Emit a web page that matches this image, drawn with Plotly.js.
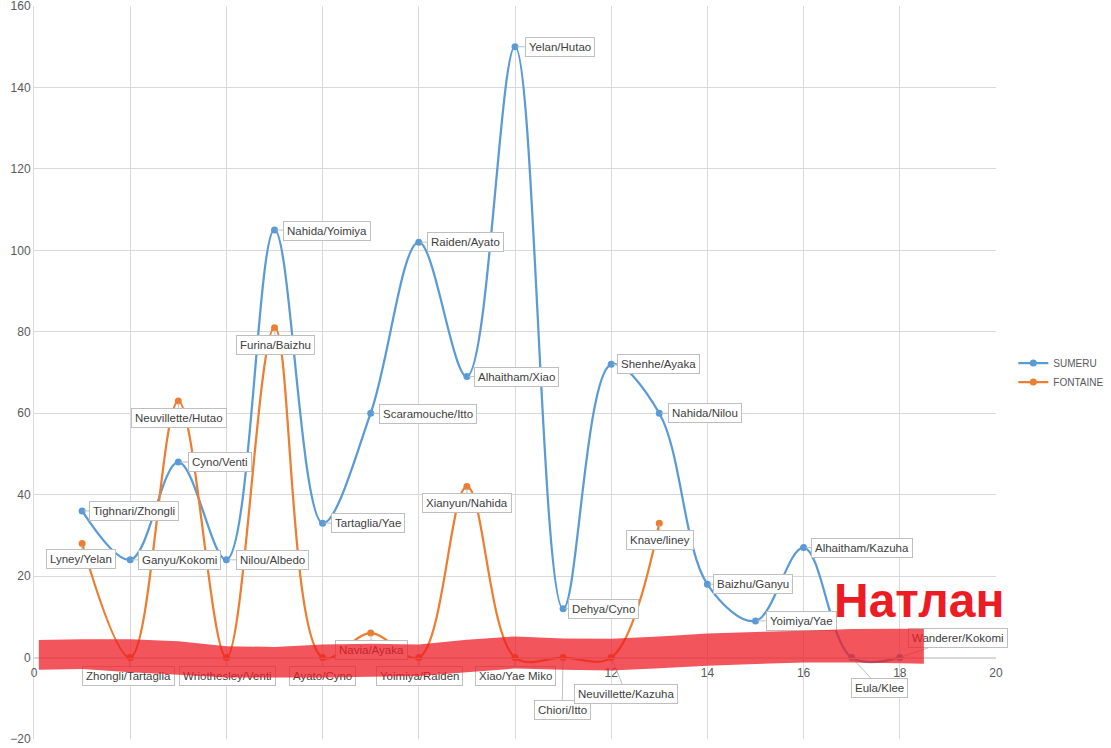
<!DOCTYPE html>
<html>
<head>
<meta charset="utf-8">
<script src="https://cdn.plot.ly/plotly-3.0.1.min.js"></script>
<style>
  html, body { margin: 0; padding: 0; background: #fff; }
  #chart { width: 1111px; height: 748px; }
</style>
</head>
<body>
<div id="chart"></div>
<script>
// values
let sumeru_x = [1, 2, 3, 4, 5, 6, 7, 8, 9, 10, 11, 12, 13, 14, 15, 16, 17, 18]
let sumeru_y = [36, 24, 48, 24, 105, 33, 60, 102, 69, 150, 12, 72, 60, 18, 9, 27, 0, 0]
let sumeru_labels = ['Tighnari/Zhongli', 'Ganyu/Kokomi', 'Cyno/Venti', 'Nilou/Albedo', 'Nahida/Yoimiya',
  'Tartaglia/Yae', 'Scaramouche/Itto', 'Raiden/Ayato', 'Alhaitham/Xiao', 'Yelan/Hutao', 'Dehya/Cyno',
  'Shenhe/Ayaka', 'Nahida/Nilou', 'Baizhu/Ganyu', 'Yoimiya/Yae', 'Alhaitham/Kazuha', 'Eula/Klee', 'Wanderer/Kokomi']

let fontaine_x = [1, 2, 3, 4, 5, 6, 7, 8, 9, 10, 11, 12, 13]
let fontaine_y = [28, 0, 63, 0, 81, 0, 6, 0, 42, 0, 0, 0, 33]
let fontaine_labels = ['Lyney/Yelan', 'Zhongli/Tartaglia', 'Neuvillette/Hutao', 'Wriothesley/Venti', 'Furina/Baizhu',
  'Ayato/Cyno', 'Navia/Ayaka', 'Yoimiya/Raiden', 'Xianyun/Nahida', 'Xiao/Yae Miko', 'Chiori/Itto',
  'Neuvillette/Kazuha', 'Knave/liney']

// label box offsets (pixels) from each point
let sumeru_dx = [52, 49, 42, 46, 52, 45, 57, 47, 50, 45, 40, 47, 46, 46, 46, 58, 28, 58]
let sumeru_dy = [0, 0, 0, 0, 1, 0, 1, 0, 0, 0, 0, 0, 0, 0, 0, 0, 30, -20]
let fontaine_dx = [-1, -2, 1, 1, 1, 0, 1, 1, 0, 0, -1, 15, 1]
let fontaine_dy = [15, 18, 17, 18, 17, 18, 17, 18, 16, 18, 52, 36, 17]

// hand drawn highlighter band
let band_x = [0.1, 1, 2, 3, 4, 5, 6, 7, 8, 9, 10, 11, 12, 13, 14, 15, 16, 17, 18, 18.5]
let band_top = [4.3, 4.5, 4.5, 4.0, 2.8, 2.6, 3.2, 3.4, 3.2, 4.4, 5.2, 4.7, 4.6, 5.2, 5.9, 6.3, 6.6, 7.0, 7.1, 7.0]
let band_bottom = [-3.0, -2.8, -3.6, -4.2, -4.9, -4.9, -4.9, -4.7, -4.5, -3.6, -2.7, -3.0, -3.2, -2.6, -2.0, -1.6, -1.2, -1.2, -1.4, -1.5]

let blue = '#5B9BD5'
let orange = '#ED7D31'
let label_font = {family: '"Liberation Sans", Arial, sans-serif', size: 11.5, color: '#404040'}

let make_labels = function(xs, ys, texts, dxs, dys) {
  let out = []
  for (let i = 0; i < xs.length; i++) {
    out.push({
      x: xs[i], y: ys[i], xref: 'x', yref: 'y',
      text: texts[i],
      showarrow: true, arrowhead: 0, arrowwidth: 1, arrowcolor: '#BFBFBF',
      ax: dxs[i], ay: dys[i], standoff: 2,
      bgcolor: '#FFFFFF', bordercolor: '#BFBFBF', borderwidth: 1, borderpad: 3,
      font: label_font
    })
  }
  return out
}

let band_path = 'M ' + band_x[0] + ',' + band_bottom[0]
for (let i = 0; i < band_x.length; i++) band_path += ' L ' + band_x[i] + ',' + band_top[i]
for (let i = band_x.length - 1; i >= 0; i--) band_path += ' L ' + band_x[i] + ',' + band_bottom[i]
band_path += ' Z'

let traces = [
  {
    x: sumeru_x, y: sumeru_y, name: 'SUMERU',
    mode: 'lines+markers', type: 'scatter',
    line: {color: blue, width: 2.25, shape: 'spline', smoothing: 1},
    marker: {color: blue, size: 7}
  },
  {
    x: fontaine_x, y: fontaine_y, name: 'FONTAINE',
    mode: 'lines+markers', type: 'scatter',
    line: {color: orange, width: 2.25, shape: 'spline', smoothing: 1},
    marker: {color: orange, size: 7}
  }
]

let annotations = make_labels(sumeru_x, sumeru_y, sumeru_labels, sumeru_dx, sumeru_dy)
  .concat(make_labels(fontaine_x, fontaine_y, fontaine_labels, fontaine_dx, fontaine_dy))

annotations.push({
  x: 18.4, y: 14, xref: 'x', yref: 'y', showarrow: false,
  text: 'Натлан',
  font: {family: '"Liberation Sans", Arial, sans-serif', size: 48, color: '#ED1C24', weight: 700}
})

let tick_font = {family: '"Liberation Sans", Arial, sans-serif', size: 12, color: '#595959'}

let layout = {
  width: 1111, height: 748,
  margin: {l: 34, r: 115, t: 6, b: 9, autoexpand: false},
  paper_bgcolor: '#FFFFFF', plot_bgcolor: '#FFFFFF',
  showlegend: true,
  legend: {
    x: 1.018, y: 0.5, xanchor: 'left', yanchor: 'middle',
    font: {family: '"Liberation Sans", Arial, sans-serif', size: 10, color: '#595959'},
    itemwidth: 30, tracegroupgap: 4
  },
  xaxis: {
    range: [0, 20], dtick: 2, tick0: 0,
    showgrid: true, gridcolor: '#D9D9D9', gridwidth: 1,
    zeroline: false, showline: true, linecolor: '#D9D9D9',
    anchor: 'free', position: 20 / 180,
    ticks: '', tickfont: tick_font, ticklabelstandoff: 4, ticklabeloverflow: 'allow'
  },
  yaxis: {
    range: [-20, 160], dtick: 20, tick0: 0,
    showgrid: true, gridcolor: '#D9D9D9', gridwidth: 1,
    zeroline: false, showline: true, linecolor: '#D9D9D9',
    ticks: '', tickfont: tick_font, ticklabeloverflow: 'allow'
  },
  shapes: [{
    type: 'path', xref: 'x', yref: 'y', path: band_path,
    fillcolor: 'rgba(237,28,36,0.75)', line: {width: 0}, layer: 'above'
  }],
  annotations: annotations
}

Plotly.newPlot('chart', traces, layout, {displayModeBar: false, staticPlot: true}).then(function(gd) {
  // the highlighter sits on top of the data labels too
  let above = gd.querySelector('.layer-above')
  if (above) above.parentNode.appendChild(above)
})
</script>
</body>
</html>
